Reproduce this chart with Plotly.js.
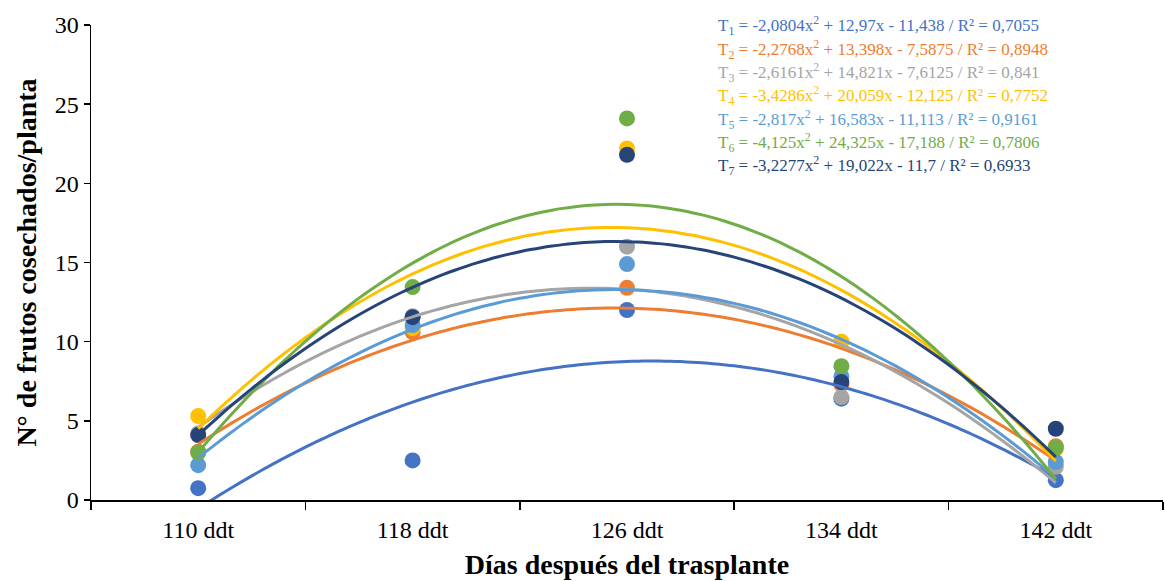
<!DOCTYPE html>
<html>
<head>
<meta charset="utf-8">
<script src="https://cdn.plot.ly/plotly-3.0.1.min.js"></script>
<style>html,body{margin:0;padding:0;background:#fff;}#chart{width:1165px;height:581px;}</style>
</head>
<body>
<div id="chart"></div>
<script>
// Categories (x positions 1..5)
const categories = ["110 ddt", "118 ddt", "126 ddt", "134 ddt", "142 ddt"];
const xPos = [1, 2, 3, 4, 5];

// Observed values per treatment
const T1 = [0.75, 2.5, 12.0, 6.4, 1.25];
const T2 = [3.05, 10.6, 13.4, 7.3, 3.4];
const T3 = [4.2, 11.6, 16.0, 6.5, 2.1];
const T4 = [5.3, 10.85, 22.2, 10.0, 3.25];
const T5 = [2.2, 11.05, 14.9, 7.8, 2.4];
const T6 = [3.0, 13.45, 24.1, 8.45, 3.3];
const T7 = [4.1, 11.55, 21.8, 7.45, 4.5];

// Polynomial trendline coefficients shown on the chart (a x^2 + b x + c)
const coefA = [-2.0804, -2.2768, -2.6161, -3.4286, -2.817, -4.125, -3.2277];
const coefB = [12.97, 13.398, 14.821, 20.059, 16.583, 24.325, 19.022];
const coefC = [-11.438, -7.5875, -7.6125, -12.125, -11.113, -17.188, -11.7];
const r2 = ["0,7055", "0,8948", "0,841", "0,7752", "0,9161", "0,7806", "0,6933"];

const seriesNames = ["T1", "T2", "T3", "T4", "T5", "T6", "T7"];
const colors = ["#4472C4", "#ED7D31", "#A5A5A5", "#FFC000", "#5B9BD5", "#70AD47", "#264478"];
const allSeries = [T1, T2, T3, T4, T5, T6, T7];

const SERIF = "'Liberation Serif', 'Times New Roman', Times, serif";

const traces = [];
allSeries.forEach((vals, i) => {
  traces.push({
    x: xPos, y: vals, type: "scatter", mode: "markers", name: seriesNames[i],
    marker: {color: colors[i], size: 16}, showlegend: false, cliponaxis: false
  });
});
// trendlines
const xs = [];
for (let k = 0; k <= 80; k++) xs.push(1 + k * 0.05);
allSeries.forEach((vals, i) => {
  traces.push({
    x: xs, y: xs.map(x => coefA[i] * x * x + coefB[i] * x + coefC[i]),
    type: "scatter", mode: "lines", line: {color: colors[i], width: 3, shape: "spline"},
    showlegend: false, hoverinfo: "skip"
  });
});

function fmt(v) { return Math.abs(v).toString().replace(".", ","); }
const annotations = seriesNames.map((n, i) => ({
  xref: "paper", yref: "paper", xanchor: "left", yanchor: "middle",
  x: (716 - 91) / 1072, y: (500 - (26 + i * 23.3)) / 475,
  showarrow: false,
  text: "T<sub>" + (i + 1) + "</sub> = " + (coefA[i] < 0 ? "-" : "") + fmt(coefA[i]) + "x<sup>2</sup> " +
        (coefB[i] < 0 ? "- " : "+ ") + fmt(coefB[i]) + "x " + (coefC[i] < 0 ? "- " : "+ ") + fmt(coefC[i]) +
        " / R² = " + r2[i],
  font: {family: SERIF, size: 17, color: colors[i]}
}));

const layout = {
  width: 1165, height: 581,
  margin: {l: 91, r: 2, t: 25, b: 81},
  paper_bgcolor: "#fff", plot_bgcolor: "#fff",
  font: {family: SERIF, color: "#000"},
  xaxis: {
    range: [0.5, 5.5], tickvals: xPos, ticktext: categories, ticks: "",
    showgrid: false, zeroline: false, showline: true, linecolor: "#000", linewidth: 1.5,
    tickfont: {size: 24, family: SERIF, color: "#000"}, ticklabelstandoff: 8,
    minor: {ticks: "outside", tick0: 0.5, dtick: 1, ticklen: 8, tickcolor: "#000", tickwidth: 1.5, showgrid: false},
    title: {text: "<b>Días después del trasplante</b>", font: {size: 28, family: SERIF, color: "#000"}, standoff: 12}
  },
  yaxis: {
    range: [0, 30], dtick: 5, ticks: "outside", ticklen: 6, tickwidth: 1.5, tickcolor: "#000",
    showgrid: false, zeroline: false, showline: true, linecolor: "#000", linewidth: 1.5,
    tickfont: {size: 24, family: SERIF, color: "#000"},
    title: {text: "<b>N° de frutos cosechados/planta</b>", font: {size: 28, family: SERIF, color: "#000"}, standoff: 10}
  },
  annotations: annotations
};

Plotly.newPlot("chart", traces, layout, {displayModeBar: false, staticPlot: true});
</script>
</body>
</html>
